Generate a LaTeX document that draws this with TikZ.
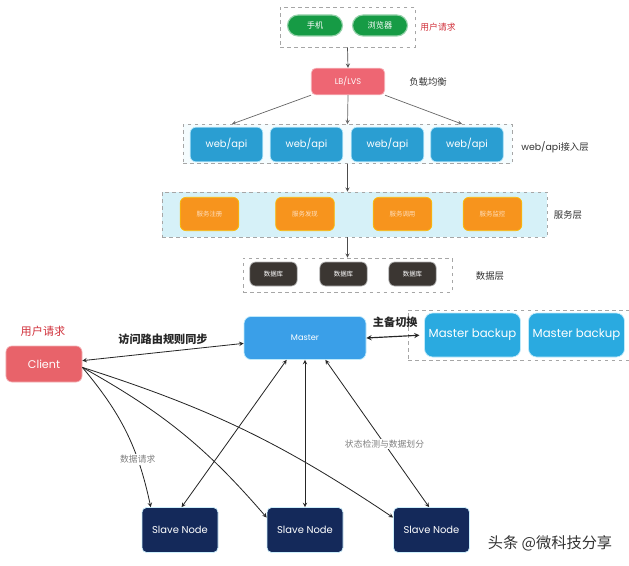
\documentclass[tikz,border=0pt]{standalone}
\usepackage{fontspec}
\setmainfont{Noto Sans CJK SC}
\newfontfamily\latinfont{Poppins}
\usepackage{xcolor}
\usepackage{tikz}
\definecolor{phgreen}{HTML}{169B45}
\definecolor{lbred}{HTML}{EE6673}
\definecolor{webblue}{HTML}{2A9ED2}
\definecolor{svcorange}{HTML}{F7941D}
\definecolor{svcband}{HTML}{D6F1F8}
\definecolor{dbbrown}{HTML}{3B3632}
\definecolor{clientred}{HTML}{E8636A}
\definecolor{masterblue}{HTML}{3A9FE8}
\definecolor{backupblue}{HTML}{2AAAE0}
\definecolor{slavenavy}{HTML}{14295A}
\definecolor{tagred}{HTML}{D0303A}

\begin{document}
\begin{tikzpicture}[
    x=0.03cm, y=-0.03cm,
    >=stealth,
    line width=0.6pt,
    every node/.style={font=\fontsize{7}{8}\selectfont},
    layer/.style={draw=gray!70, dashed, line width=0.6pt, inner sep=0pt},
    phone/.style={rounded corners=9pt, fill=phgreen, draw=phgreen!45, line width=1pt, text=white,
      minimum width=1.65cm, minimum height=0.63cm},
    lbbox/.style={rounded corners=4pt, fill=lbred, draw=lbred!50, text=white,
      minimum width=2.2cm, minimum height=0.8cm, font=\latinfont\fontsize{7}{8}\selectfont},
    webbox/.style={rounded corners=5pt, fill=webblue, draw=cyan!30, text=white,
      minimum width=2.18cm, minimum height=1.04cm, font=\latinfont\fontsize{8.5}{9}\selectfont},
    svcbox/.style={rounded corners=5pt, fill=svcorange, draw=yellow!50!orange, text=white!75!orange,
      minimum width=1.76cm, minimum height=1.0cm, font=\fontsize{5.5}{6}\selectfont},
    dbbox/.style={rounded corners=5pt, fill=dbbrown, draw=gray!60, text=white,
      minimum width=1.42cm, minimum height=0.72cm, font=\fontsize{5.5}{6}\selectfont},
    clientbox/.style={rounded corners=5pt, fill=clientred, draw=clientred!50, text=white,
      minimum width=2.28cm, minimum height=1.08cm, font=\latinfont\fontsize{9.5}{10}\selectfont},
    masterbox/.style={rounded corners=6pt, fill=masterblue, draw=cyan!25, text=white,
      minimum width=3.66cm, minimum height=1.29cm, font=\latinfont\fontsize{7}{8}\selectfont},
    backupbox/.style={rounded corners=7pt, fill=backupblue, draw=cyan!25, text=white,
      minimum width=2.88cm, minimum height=1.32cm, font=\latinfont\fontsize{10}{11}\selectfont},
    slavebox/.style={rounded corners=4pt, fill=slavenavy, draw=cyan!20, text=white,
      minimum width=2.28cm, minimum height=1.35cm, font=\latinfont\fontsize{8.5}{9}\selectfont},
    tag/.style={text=black!80, font=\fontsize{8}{9}\selectfont},
    note/.style={text=gray, fill=white, inner sep=1pt, font=\fontsize{7.5}{8}\selectfont},
    link/.style={draw=black!85, line width=0.7pt}
  ]
    \useasboundingbox (0,0) rectangle (629,565);

    \node[layer, minimum width=4.05cm, minimum height=1.2cm] (userL) at (347.5,27) {};
    \node[phone] (phone) at (315,25.5) {手机};
    \node[phone] (browser) at (380,25.5) {浏览器};
    \node[tag, text=tagred, font=\fontsize{7.5}{8}\selectfont] (userTag) at (438,27) {用户请求};

    \node[lbbox] (lb) at (348,81.5) {LB/LVS};
    \node[tag] (lbTag) at (428,82) {负载均衡};

    \node[layer, fill=cyan!4, minimum width=9.87cm, minimum height=1.17cm] (webL) at (347.5,144) {};
    \node[webbox] (web1) at (226.5,144.5) {web/api};
    \node[webbox] (web2) at (306.5,144.5) {web/api};
    \node[webbox] (web3) at (387.5,144.5) {web/api};
    \node[webbox] (web4) at (467,144.5) {web/api};
    \node[tag] (webTag) at (555,147) {\latinfont web/api\normalfont 接入层};

    \node[layer, fill=svcband, minimum width=11.55cm, minimum height=1.35cm] (svcL) at (354.5,214.5) {};
    \node[svcbox] (svc1) at (209.5,214) {服务注册};
    \node[svcbox] (svc2) at (305,214) {服务发现};
    \node[svcbox] (svc3) at (402.5,214) {服务调用};
    \node[svcbox] (svc4) at (492.5,214) {服务监控};
    \node[tag] (svcTag) at (568,215) {服务层};

    \node[layer, minimum width=6.27cm, minimum height=1.02cm] (dataL) at (347.5,275) {};
    \node[dbbox] (db1) at (273.5,274) {数据库};
    \node[dbbox] (db2) at (343.5,274) {数据库};
    \node[dbbox] (db3) at (412.5,274) {数据库};
    \node[tag] (dataTag) at (490,276) {数据层};

    \draw[->, draw=black!70] (userL.south) -- (lb.north);
    \draw[->, draw=black!60] (lb.south west) -- (232,124);
    \draw[->, draw=black!60] (lb.south) -- (webL.north);
    \draw[->, draw=black!60] (lb.south east) -- (462,124);
    \draw[->, draw=black!70] (webL.south) -- (webL.south |- svcL.north);
    \draw[->, draw=black!70] (dataL.north |- svcL.south) -- (dataL.north);

    \node[text=tagred, font=\fontsize{9.5}{10}\selectfont] (clientTag) at (43,331) {用户请求};
    \node[clientbox] (client) at (44,364) {Client};
    \node[masterbox] (master) at (305,338) {Master};
    \node[layer, minimum width=6.9cm, minimum height=1.5cm] (backL) at (523,335) {};
    \node[backupbox] (mb1) at (472.5,335) {Master backup};
    \node[backupbox] (mb2) at (576.5,335) {Master backup};

    \node[slavebox] (slave1) at (180,530) {Slave Node};
    \node[slavebox] (slave2) at (305,530) {Slave Node};
    \node[slavebox] (slave3) at (431.5,530) {Slave Node};

    \draw[link, <->] (client.5) -- node[above=3pt, font=\bfseries\fontsize{9.5}{10}\selectfont, text=black!85] {访问路由规则同步} (master.185);
    \draw[link, <->, line width=1pt, shorten >=4pt] (master.east) -- node[above=4pt, font=\bfseries\fontsize{9.5}{10}\selectfont, text=black!85] {主备切换} (mb1.west);

    \draw[link, ->] (client.-5) to[bend left=14] node[note, pos=0.7] {数据请求} (slave1.142);
    \draw[link, ->] (client.-5) to[bend left=10] (slave2.162);
    \draw[link, ->] (client.-5) to[bend left=8] (slave3.162);

    \draw[link, <->] (slave1.86) -- (master.230);
    \draw[link, <->] (slave2.north) -- (master.south);
    \draw[link, <->] (slave3.96) -- node[note, pos=0.43] {状态检测与数据划分} (master.-47);

    \node[text=black!80, font=\fontsize{13}{14}\selectfont] (mark) at (550,543) {头条 @微科技分享};
  \end{tikzpicture}
\end{document}
